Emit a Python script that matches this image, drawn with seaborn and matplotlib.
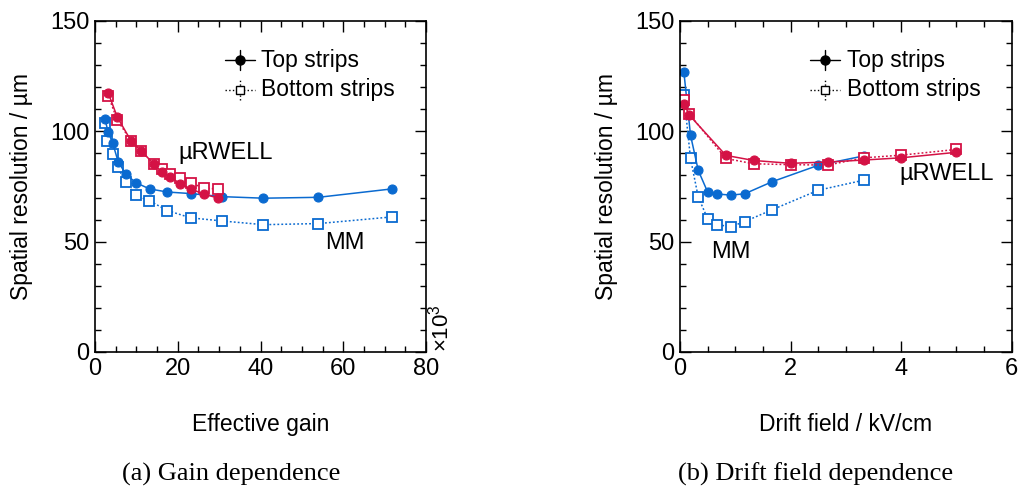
import matplotlib
matplotlib.use("Agg")
import matplotlib.pyplot as plt
import seaborn as sns
import numpy as np
from matplotlib.ticker import MultipleLocator
from matplotlib.lines import Line2D

sns.set_theme(style="white")
plt.rcParams['font.family'] = ['Liberation Sans', 'DejaVu Sans']
plt.rcParams['mathtext.fontset'] = 'custom'
plt.rcParams['mathtext.rm'] = 'Liberation Sans'
plt.rcParams['mathtext.it'] = 'Liberation Sans:italic'
plt.rcParams['text.color'] = 'black'
plt.rcParams['axes.labelcolor'] = 'black'
plt.rcParams['xtick.color'] = 'black'
plt.rcParams['ytick.color'] = 'black'

# ---- (a) Gain dependence (gain in units of 10^3) ----
mm_gain_top = [2.4, 3.2, 4.3, 5.6, 7.5, 9.9, 13.2, 17.5, 23.1, 30.8, 40.7, 54.0, 71.7]
mm_res_top = [105.4, 99.7, 94.5, 86.2, 80.5, 76.7, 73.9, 72.5, 71.8, 70.4, 69.7, 70.1, 73.9]
mm_gain_bot = [2.3, 3.0, 4.3, 5.5, 7.4, 9.8, 13.1, 17.5, 23.1, 30.6, 40.7, 54.0, 71.7]
mm_res_bot = [103.7, 95.7, 89.9, 83.7, 76.9, 71.0, 68.6, 64.1, 60.8, 59.4, 57.7, 58.2, 61.2]
rw_gain_top = [3.2, 5.4, 8.8, 11.2, 14.3, 16.1, 18.2, 20.6, 23.1, 26.4, 29.7]
rw_res_top = [117.4, 106.4, 95.4, 91.1, 85.0, 81.7, 79.3, 76.3, 73.9, 71.5, 69.8]
rw_gain_bot = [3.2, 5.4, 8.8, 11.2, 14.3, 16.2, 18.2, 20.6, 23.2, 26.4, 29.7]
rw_res_bot = [116.1, 105.1, 95.4, 91.1, 85.0, 83.1, 80.8, 78.7, 76.6, 74.2, 73.9]

# ---- (b) Drift field dependence (kV/cm) ----
mm_field = [0.07, 0.19, 0.33, 0.50, 0.67, 0.92, 1.17, 1.67, 2.5, 3.33]
mm_dres_top = [126.9, 98.3, 82.3, 72.5, 71.6, 71.1, 71.7, 77.2, 84.6, 88.9]
mm_dres_bot = [116.4, 87.7, 70.2, 60.4, 57.7, 56.8, 59.1, 64.5, 73.3, 77.9]
rw_field = [0.07, 0.17, 0.83, 1.33, 2.0, 2.67, 3.33, 4.0, 5.0]
rw_dres_top = [112.6, 107.3, 89.1, 86.8, 85.5, 86.1, 87.0, 88.0, 90.5]
rw_dres_bot = [114.4, 107.8, 87.7, 85.3, 84.9, 84.7, 88.0, 89.2, 91.8]

BLUE = "#0a6ad0"
RED = "#d41245"

fig = plt.figure(figsize=(10.18, 4.88), dpi=100)
axA = fig.add_axes([95/1018, 1-352/488, 331/1018, 331/488])
axB = fig.add_axes([680/1018, 1-352/488, 331.7/1018, 331/488])


def series(ax, x, y, color, filled):
    kw = dict(x=x, y=y, ax=ax, color=color, estimator=None, sort=False,
              linewidth=1.1, markeredgecolor=color)
    if filled:
        sns.lineplot(marker='o', linestyle='-', markersize=6.5,
                     markeredgewidth=0.8, **kw)
    else:
        sns.lineplot(marker='s', linestyle=(0, (1.2, 1.4)), markerfacecolor='white',
                     markersize=6.5, markeredgewidth=1.3, **kw)


series(axA, mm_gain_bot, mm_res_bot, BLUE, False)
series(axA, mm_gain_top, mm_res_top, BLUE, True)
series(axA, rw_gain_bot, rw_res_bot, RED, False)
series(axA, rw_gain_top, rw_res_top, RED, True)

series(axB, mm_field, mm_dres_bot, BLUE, False)
series(axB, mm_field, mm_dres_top, BLUE, True)
series(axB, rw_field, rw_dres_bot, RED, False)
series(axB, rw_field, rw_dres_top, RED, True)

for ax, xmax, xmaj, xmin in [(axA, 80, 20, 5), (axB, 6, 2, 0.5)]:
    ax.set_xlim(0, xmax)
    ax.set_ylim(0, 150)
    ax.xaxis.set_major_locator(MultipleLocator(xmaj))
    ax.xaxis.set_minor_locator(MultipleLocator(xmin))
    ax.yaxis.set_major_locator(MultipleLocator(50))
    ax.yaxis.set_minor_locator(MultipleLocator(10))
    ax.tick_params(which='both', direction='in', top=True, right=True,
                   bottom=True, left=True, colors='black', labelsize=17)
    ax.tick_params(which='major', length=8, width=1.0, pad=4)
    ax.tick_params(which='minor', length=4.5, width=1.0)
    for s in ax.spines.values():
        s.set_color('black')
        s.set_linewidth(1.2)
    ax.set_ylabel("Spatial resolution / µm", fontsize=16.5, labelpad=12)
    ax.grid(False)
    ax.set_facecolor('white')

    # legend (manual, with error-bar style handles)
    for yy, ls, mk, mfc in [(0.882, '-', 'o', 'black'), (0.792, ':', 's', 'white')]:
        ax.add_line(Line2D([0.393, 0.483], [yy, yy], transform=ax.transAxes,
                           color='black', linestyle=ls, linewidth=1.0))
        ax.add_line(Line2D([0.438, 0.438], [yy - 0.03, yy + 0.03], transform=ax.transAxes,
                           color='black', linestyle=ls, linewidth=1.0))
        ax.add_line(Line2D([0.438], [yy], transform=ax.transAxes, marker=mk,
                           markersize=6.5 if mk == 'o' else 5.5, color='black',
                           markerfacecolor=mfc, markeredgewidth=1.0, linestyle='none'))
    ax.text(0.502, 0.882, "Top strips", transform=ax.transAxes, fontsize=16.5,
            va='center', ha='left')
    ax.text(0.502, 0.792, "Bottom strips", transform=ax.transAxes, fontsize=16.5,
            va='center', ha='left')

axA.set_xlabel("Effective gain", fontsize=16.5, labelpad=24)
axB.set_xlabel("Drift field / kV/cm", fontsize=16.5, labelpad=24)

axA.text(20.1, 90.2, "µRWELL", fontsize=17, ha='left', va='center')
axA.text(55.6, 49.4, "MM", fontsize=17, ha='left', va='center')
axB.text(3.96, 80.6, "µRWELL", fontsize=17, ha='left', va='center')
axB.text(0.56, 45.5, "MM", fontsize=17, ha='left', va='center')

axA.text(1.045, 0.0, r"$\times10^{3}$", transform=axA.transAxes, rotation=90,
         ha='center', va='bottom', fontsize=16)

fig.text(231/1018, 1-474/488, "(a) Gain dependence", fontsize=19,
         family=['Liberation Serif', 'DejaVu Serif'], ha='center', va='center')
fig.text(816/1018, 1-474/488, "(b) Drift field dependence", fontsize=19,
         family=['Liberation Serif', 'DejaVu Serif'], ha='center', va='center')

fig.savefig("out.png", dpi=100, facecolor='white')
